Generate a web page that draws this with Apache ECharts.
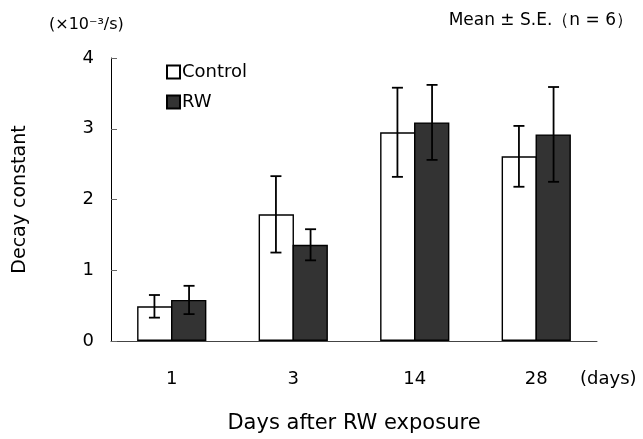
<!DOCTYPE html>
<html>
<head>
<meta charset="utf-8">
<script src="https://cdn.jsdelivr.net/npm/echarts@6/dist/echarts.min.js"></script>
<style>html,body{margin:0;padding:0;background:#fff}#c{width:643px;height:439px}</style>
</head>
<body>
<div id="c"></div>
<script>
const categories = ['1', '3', '14', '28'];
const controlMean = [0.49, 1.79, 2.95, 2.61];
const controlSE = [0.16, 0.54, 0.63, 0.43];
const rwMean = [0.58, 1.36, 3.09, 2.92];
const rwSE = [0.20, 0.22, 0.53, 0.67];
const yMin = 0, yMax = 4, yStep = 1;

const FONT = '"DejaVu Sans", sans-serif';
const GAP = 0.43;

function errData(mean, se) {
  return mean.map((m, i) => [i, m - se[i], m + se[i]]);
}
function errRender(sign) {
  return function (params, api) {
    const x = api.value(0);
    const lo = api.coord([x, api.value(1)]);
    const hi = api.coord([x, api.value(2)]);
    const band = api.size([1, 0])[0];
    const cx = lo[0] + sign * band * (1 - GAP) / 4;
    const cap = 5.5;
    const st = { stroke: '#000', lineWidth: 1.8 };
    return {
      type: 'group',
      children: [
        { type: 'line', shape: { x1: cx, y1: lo[1], x2: cx, y2: hi[1] }, style: st },
        { type: 'line', shape: { x1: cx - cap, y1: hi[1], x2: cx + cap, y2: hi[1] }, style: st },
        { type: 'line', shape: { x1: cx - cap, y1: lo[1], x2: cx + cap, y2: lo[1] }, style: st }
      ]
    };
  };
}

const chart = echarts.init(document.getElementById('c'));
chart.setOption({
  animation: false,
  backgroundColor: '#fff',
  textStyle: { fontFamily: FONT, color: '#000' },
  grid: { left: 111, right: 46, top: 58, bottom: 96 },
  legend: {
    orient: 'vertical',
    left: 161,
    top: 58,
    itemWidth: 13,
    itemHeight: 13,
    itemGap: 12,
    icon: 'rect',
    textStyle: { fontSize: 18, fontFamily: FONT, color: '#000', padding: [0, 0, 0, -3] },
    data: ['Control', 'RW']
  },
  xAxis: {
    type: 'category',
    data: categories,
    name: 'Days after RW exposure',
    nameLocation: 'middle',
    nameGap: 72,
    nameTextStyle: { fontSize: 21, fontFamily: FONT, color: '#000' },
    axisLine: { lineStyle: { color: '#444', width: 1 } },
    axisTick: { inside: true, length: 5, lineStyle: { color: '#444' } },
    axisLabel: { fontSize: 18, fontFamily: FONT, color: '#000', margin: 29 }
  },
  yAxis: {
    type: 'value',
    min: yMin, max: yMax, interval: yStep,
    name: 'Decay constant',
    nameLocation: 'middle',
    nameGap: 81,
    nameTextStyle: { fontSize: 19, fontFamily: FONT, color: '#000' },
    splitLine: { show: false },
    axisLine: { show: true, lineStyle: { color: '#000', width: 1 } },
    axisTick: { show: true, inside: true, length: 6, lineStyle: { color: '#666' } },
    axisLabel: { fontSize: 18, fontFamily: FONT, color: '#000', margin: 17 }
  },
  graphic: [
    { type: 'text', x: 49, y: 25, style: { text: '(×10⁻³/s)', font: '16px ' + FONT, fill: '#000', textAlign: 'left', textVerticalAlign: 'middle' } },
    { type: 'text', x: 633, y: 21, style: { text: 'Mean ± S.E.（n = 6）', font: '17px ' + FONT, fill: '#000', textAlign: 'right', textVerticalAlign: 'middle' } },
    { type: 'text', x: 580, y: 379, style: { text: '(days)', font: '18px ' + FONT, fill: '#000', textAlign: 'left', textVerticalAlign: 'middle' } }
  ],
  series: [
    {
      name: 'Control', type: 'bar', data: controlMean,
      barGap: '-4%', barCategoryGap: (GAP * 100) + '%',
      itemStyle: { color: '#fff', borderColor: '#000', borderWidth: 1.4 }
    },
    {
      name: 'RW', type: 'bar', data: rwMean,
      itemStyle: { color: '#333', borderColor: '#000', borderWidth: 1.4 }
    },
    { type: 'custom', renderItem: errRender(-1), data: errData(controlMean, controlSE), z: 10, silent: true },
    { type: 'custom', renderItem: errRender(1), data: errData(rwMean, rwSE), z: 10, silent: true }
  ]
});
</script>
</body>
</html>
